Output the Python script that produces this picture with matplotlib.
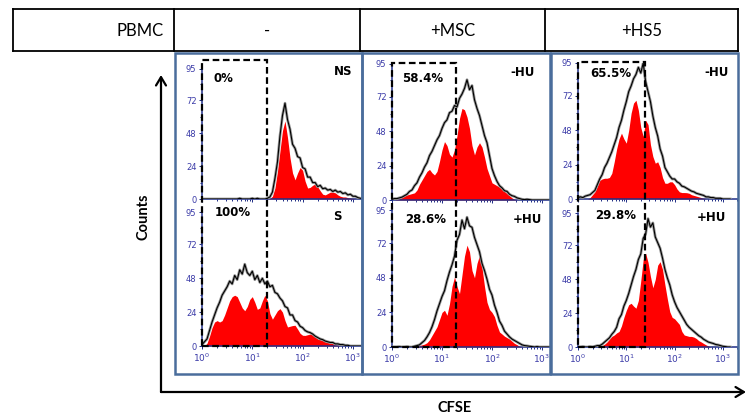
import numpy as np
import matplotlib
matplotlib.use("Agg")
import matplotlib.pyplot as plt
from matplotlib.patches import Rectangle, FancyArrowPatch
from matplotlib.lines import Line2D

W, H = 747, 419

# CFSE channel, log10 positions of the histogram bins
log_bins = np.linspace(0, 3.15, 64)

# red = fitted generations, black = raw histogram
red_ns = [0] * 27 + [0.3, 2, 8, 20, 35, 50, 57, 45, 30, 19,
                     14, 19, 23, 21, 13, 8, 8.5, 10, 11, 9,
                     6, 3.5, 3, 4, 5, 5, 4.5, 3, 2, 1.5,
                     1.5, 1, 0.7, 0.4, 0, 0, 0]
black_ns = [0, 0, 0, 0, 0, 0, 0, 0, 0, 0, 0, 0, 0, 0, 0, 0.5, 0, 0, 0, 0,
            0.5, 0, 0.5, 0, 0, 0,
            0.5, 1.5, 5, 15, 27, 46, 61, 70, 58, 51,
            40, 37, 31, 30, 23, 22, 16, 16, 12, 12,
            9, 10, 7.5, 8, 6.5, 7, 5.5, 6.5, 5, 5.5,
            4, 4.5, 3, 3.5, 2, 2, 1, 0.5]

red_s = [0, 0, 2, 7, 13, 17, 18, 17, 18, 22,
         27, 32, 35, 36, 35, 31, 27, 25, 28, 33,
         35, 31, 26, 27, 32, 36, 32, 23, 19, 22,
         25, 26.5, 24, 18, 13.5, 14, 14.5, 14.7, 12, 9,
         7.6, 7.5, 8, 8.5, 8, 6.5, 5, 4.5, 4, 3,
         2.5, 2, 1.7, 1, 0.5, 0, 0, 0, 0, 0,
         0, 0, 0, 0]
black_s = [1, 3, 5, 11, 17, 22, 27, 31, 36, 39,
           42, 46, 44, 50, 47, 54, 51, 58, 52, 50,
           53, 47, 50, 45, 48, 44, 46, 42, 43, 38,
           37, 34, 32, 28, 27, 22, 22, 18, 17, 14,
           13, 11, 10, 9.5, 8.5, 7, 6, 5, 4.5, 3.5,
           3, 2.5, 2.5, 1.5, 1.5, 1, 1, 0.5, 0.5, 0,
           0, 0, 0, 0]

red_msc = [0, 0, 0.5, 1, 2, 3, 3.5, 4, 4.5, 5,
           7, 11, 14, 17, 20, 21.4, 19, 17.5, 20, 27,
           35, 40.8, 38, 32, 30, 35, 45, 57, 64, 63,
           58, 50, 38, 31.5, 37, 40, 37, 30, 22, 17,
           12, 11, 10, 9, 7.5, 6, 4.5, 3, 1.5, 0.5] + [0] * 14
black_msc = [0.5, 1, 1, 1.5, 2, 3, 4, 6, 7, 10,
             12, 16, 19, 23, 26, 31, 34, 38, 42, 45,
             50, 54, 56, 61, 62, 66, 65, 71, 74, 78,
             84, 77, 80, 70, 64, 59, 52, 45, 40, 31,
             22, 17, 13, 10, 8.5, 6.5, 6, 4, 3, 2.5,
             1.5, 1, 0.5, 0.3, 0.5, 0.3, 0, 0, 0, 0,
             0, 0, 0, 0]

red_msc_hu = [0] * 10 + [0.5, 1, 1.5, 2, 3, 5, 8, 11, 14, 19,
                         24, 25.5, 22, 30, 42, 48.6, 42, 37, 50, 63,
                         70.6, 66, 53, 48, 58, 63.6, 55, 42, 31, 26,
                         24, 21, 15, 10.4, 9, 7.5, 6.5, 5.5, 4, 2.5,
                         1.6, 0.5] + [0] * 12
black_msc_hu = [0, 0, 0, 0.3, 0, 0, 0.3, 0, 0, 0.5,
                1, 1.5, 3, 4.5, 7, 10, 14, 19, 25, 30,
                35, 39, 46, 52, 57, 63, 74, 78, 88, 82,
                90, 84, 83, 76, 71, 66, 58, 53, 47, 40,
                36, 29, 24, 18, 15, 11, 9, 7, 5.5, 4.5,
                3.5, 2.5, 1.5, 1, 0.8, 0.5, 0.3, 0, 0.3, 0,
                0, 0, 0, 0]

red_hs5 = [0, 0, 0, 0, 0, 1, 3, 5, 9, 13,
           14, 14.5, 14.5, 15, 18, 26, 35, 42, 46, 42,
           39, 48, 60, 67, 69, 62, 50, 43.7, 55, 52,
           38, 29.7, 25, 26, 22, 15, 11, 11, 12, 12,
           10, 7, 5, 4.5, 4.5, 4.4, 4, 3, 2.5, 2,
           1.5, 1, 0.5] + [0] * 11
black_hs5 = [1, 1.5, 1, 2, 2.5, 3, 4.5, 6, 10, 14,
             17, 22, 25, 29, 33, 38, 43, 50, 55, 62,
             68, 75, 79, 84, 87, 92, 88, 95, 82, 75,
             68, 58, 50, 44, 35, 30, 22, 19, 16, 14,
             14, 12, 11, 9, 8.5, 7.5, 6.5, 5.5, 5, 4,
             3.5, 3, 2.5, 1.5, 1.5, 1, 1, 0.5, 0.5, 0.5,
             0, 0, 0, 0]

red_hs5_hu = [0] * 9 + [0.5,
                        1, 2, 3.5, 5.5, 7.5, 8.5, 10, 11, 15, 21,
                        26, 30, 31, 29, 27.5, 33, 47, 62, 66.5, 60,
                        50, 42, 48, 58, 60.5, 55, 44, 34, 25, 21,
                        20, 18, 16, 11, 8.5, 8, 7.5, 7.5, 7, 6,
                        4.5, 3.6, 2.5, 1.5, 0.7] + [0] * 9
black_hs5_hu = [0, 0, 0.3, 0, 0, 0.3, 0, 0.5, 1, 1,
                2, 3.5, 5, 6.5, 9, 11, 14, 20, 23, 29,
                33, 38, 44, 50, 55, 62, 66, 77, 80, 91,
                85, 88, 78, 74, 70, 63, 55, 49, 44, 37,
                32, 28, 25, 22, 19, 16, 14, 12.5, 11, 9.5,
                8, 7, 5.5, 4.5, 3.5, 3, 2.5, 1.8, 1.5, 1,
                0.5, 0.3, 0, 0]

col_headers = ["PBMC", "-", "+MSC", "+HS5"]
top_labels = ["NS", "-HU", "-HU"]
bot_labels = ["S", "+HU", "+HU"]
top_pcts = ["0%", "58.4%", "65.5%"]
bot_pcts = ["100%", "28.6%", "29.8%"]
gate_hi = [1.29, 1.28, 1.38]      # log10 CFSE upper edge of gate
gate_top = [101.5, 96, 96]

reds = [(red_ns, red_s), (red_msc, red_msc_hu), (red_hs5, red_hs5_hu)]
blacks = [(black_ns, black_s), (black_msc, black_msc_hu), (black_hs5, black_hs5_hu)]

# layout in pixels: x of 10^0, px per decade, log xmax, (y95, y0) top, (y95, y0) bottom, box x range
layout = [
    (202, 50.3, 3.18, (69, 199), (212, 346), (175, 362)),
    (392, 50.0, 3.16, (64, 200), (210, 347), (362, 550)),
    (578, 48.3, 3.31, (63, 199), (213, 347), (551, 738)),
]
# text positions in axes fraction: (pct x, pct y, label x, label y) for top / bottom
txt_top = [(0.07, 0.93, 0.94, 0.98), (0.063, 0.89, 0.905, 0.94), (0.075, 0.92, 0.94, 0.93)]
txt_bot = [(0.08, 1.0, 0.875, 0.97), (0.08, 0.93, 0.95, 0.93), (0.106, 0.98, 0.925, 0.97)]

TICK_BLUE = "#3b3ba8"
AXIS_BLUE = "#1f2d86"
BOX_BLUE = "#4a6d9c"

fig = plt.figure(figsize=(W / 100, H / 100), dpi=100)


def fx(x):
    return x / W


def fy(y):
    return 1 - y / H


def make_ax(x0, dec, xmax, y95, y0):
    x1 = x0 + dec * xmax
    ax = fig.add_axes([fx(x0), fy(y0), (x1 - x0) / W, (y0 - y95) / H])
    ax.set_xscale("log")
    ax.set_xlim(1, 10 ** xmax)
    ax.set_ylim(0, 95)
    ax.patch.set_alpha(0)
    for s in ["top", "right"]:
        ax.spines[s].set_visible(False)
    for s in ["left", "bottom"]:
        ax.spines[s].set_color(AXIS_BLUE)
        ax.spines[s].set_linewidth(1.1)
    ax.set_yticks([0, 24, 48, 72, 95])
    ax.set_yticks([12, 36, 60, 84], minor=True)
    ax.set_xticks([1, 10, 100, 1000])
    ax.tick_params(axis="both", which="both", colors=AXIS_BLUE, labelcolor=TICK_BLUE,
                   labelsize=6, direction="out", width=0.7, pad=1.5)
    ax.tick_params(which="major", length=2.5)
    ax.tick_params(which="minor", length=1.5)
    return ax


x = 10 ** log_bins
for i, (x0, dec, xmax, ytop, ybot, box) in enumerate(layout):
    ax_t = make_ax(x0, dec, xmax, *ytop)
    ax_b = make_ax(x0, dec, xmax, *ybot)
    ax_t.tick_params(axis="x", labelbottom=False)
    ax_b.tick_params(axis="x", labelsize=6.5)

    for ax, red, black in [(ax_t, reds[i][0], blacks[i][0]), (ax_b, reds[i][1], blacks[i][1])]:
        ax.fill_between(x, 0, red, color="#ff0000", lw=0, zorder=2)
        ax.plot(x, black, color="0.6", lw=2.0, zorder=3)
        ax.plot(x, black, color="black", lw=0.8, zorder=4)

    kw = dict(fontsize=8.5, fontweight="bold", va="center", family="DejaVu Sans")
    px, py, lx, ly = txt_top[i]
    ax_t.text(px, py, top_pcts[i], transform=ax_t.transAxes, ha="left", **kw)
    ax_t.text(lx, ly, top_labels[i], transform=ax_t.transAxes, ha="right", **kw)
    px, py, lx, ly = txt_bot[i]
    ax_b.text(px, py, bot_pcts[i], transform=ax_b.transAxes, ha="left", **kw)
    ax_b.text(lx, ly, bot_labels[i], transform=ax_b.transAxes, ha="right", **kw)

    # dashed gate spanning both histograms
    inv = fig.transFigure.inverted()
    gx0, gy0 = inv.transform(ax_b.transData.transform((1, 0)))
    gx1, _ = inv.transform(ax_b.transData.transform((10 ** gate_hi[i], 0)))
    _, gy1 = inv.transform(ax_t.transData.transform((1, gate_top[i])))
    fig.add_artist(Rectangle((gx0, gy0), gx1 - gx0, gy1 - gy0, transform=fig.transFigure,
                             fill=False, ec="black", lw=1.6, ls=(0, (3, 1.6)), zorder=5))

    # panel frame
    fig.add_artist(Rectangle((fx(box[0]), fy(374)), (box[1] - box[0]) / W, (374 - 53) / H,
                             transform=fig.transFigure, fill=False, ec=BOX_BLUE, lw=1.8, zorder=6))

# header table
tbl_x = [12.5, 174, 360, 545, 738]
tbl_y = (9.5, 51.5)
for xx in tbl_x:
    fig.add_artist(Line2D([fx(xx)] * 2, [fy(tbl_y[0]), fy(tbl_y[1])], color="black", lw=1.3))
for yy in tbl_y:
    fig.add_artist(Line2D([fx(tbl_x[0]), fx(tbl_x[-1])], [fy(yy)] * 2, color="black", lw=1.3))
fig.text(fx(164), fy(30.5), col_headers[0], ha="right", va="center", fontsize=12, family="Lato")
for j in range(1, 4):
    fig.text(fx((tbl_x[j] + tbl_x[j + 1]) / 2), fy(30.5), col_headers[j],
             ha="center", va="center", fontsize=12, family="Lato")

# outer axis arrows
fig.add_artist(FancyArrowPatch((fx(161), fy(392)), (fx(161), fy(75)), transform=fig.transFigure,
                               arrowstyle="->,head_length=0.5,head_width=0.3", lw=1.6, color="black",
                               mutation_scale=12, shrinkA=0, shrinkB=0))
fig.add_artist(FancyArrowPatch((fx(161), fy(392)), (fx(746), fy(392)), transform=fig.transFigure,
                               arrowstyle="->,head_length=0.5,head_width=0.3", lw=1.6, color="black",
                               mutation_scale=12, shrinkA=0, shrinkB=0))
fig.text(fx(143), fy(217), "Counts", rotation=90, ha="center", va="center",
         fontsize=10.5, fontweight="bold", family="Lato")
fig.text(fx(455), fy(408), "CFSE", ha="center", va="center",
         fontsize=10.5, fontweight="bold", family="Lato")

fig.savefig("out.png", dpi=100)
